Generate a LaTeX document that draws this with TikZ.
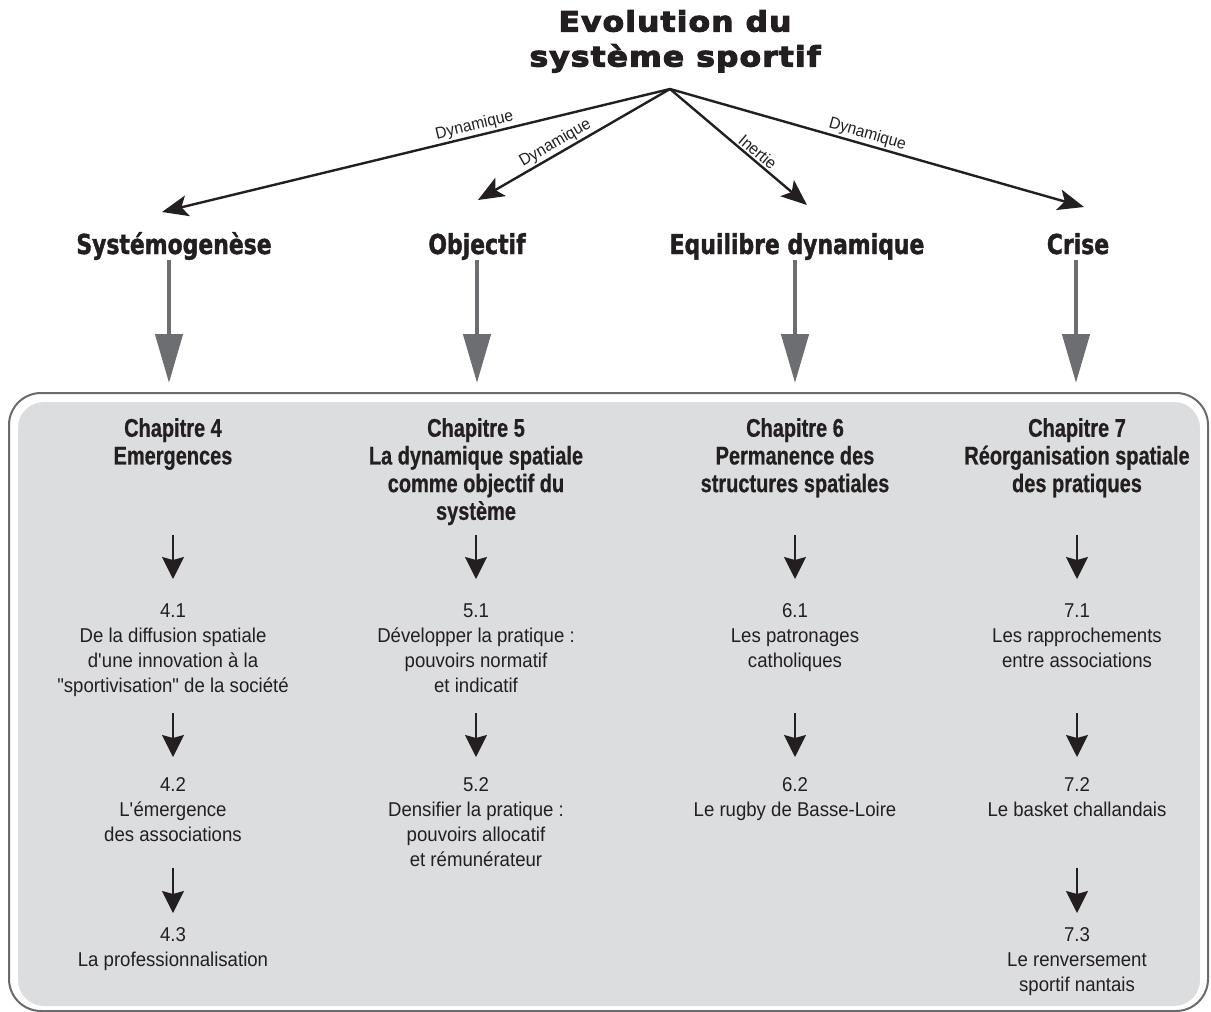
\documentclass[tikz,border=0pt]{standalone}
\usepackage{fontspec}
\usetikzlibrary{arrows.meta}
\newfontfamily\bodyfont{Liberation Sans}[FakeStretch=0.93]
\newfontfamily\chapfont{Liberation Sans}[FakeStretch=0.78,FakeBold=0.6]
\newfontfamily\catfont{DejaVu Sans}[FakeStretch=0.80,FakeBold=1.5]
\newfontfamily\titlefont{DejaVu Sans}[FakeStretch=1.12,LetterSpace=4,FakeBold=4]
\newfontfamily\labfont{Liberation Sans}[FakeStretch=0.95]
\definecolor{ink}{HTML}{231F20}
\definecolor{boxfill}{HTML}{DCDDDF}
\definecolor{boxline}{HTML}{6A6A6C}
\definecolor{grayarr}{HTML}{6D6E71}
\begin{document}
\begin{tikzpicture}[x=1pt,y=-1pt,
  titlestyle/.style={inner sep=0pt,align=center,text=ink,font=\titlefont\bfseries\fontsize{28}{35}\selectfont},
  catstyle/.style={inner sep=0pt,text=ink,font=\catfont\bfseries\fontsize{27.4}{30}\selectfont},
  chapstyle/.style={inner sep=0pt,align=center,text=ink,font=\chapfont\bfseries\fontsize{25.6}{27.7}\selectfont},
  itemstyle/.style={inner sep=0pt,align=center,text=ink,font=\bodyfont\fontsize{20}{25}\selectfont},
  labstyle/.style={inner sep=1.5pt,text=ink,font=\labfont\fontsize{16.5}{18}\selectfont,sloped,above},
  toparrow/.style={draw=ink,line width=2.4pt,-{Stealth[length=26pt,width=21pt,inset=6pt]}},
  grayarrow/.style={draw=grayarr,line width=4.7pt,-{Triangle[length=49pt,width=27pt]},grayarr},
  smallarrow/.style={draw=ink,line width=1.8pt,-{Stealth[length=22pt,width=22pt,inset=3pt]}}
]
\useasboundingbox (0,0) rectangle (1211,1012);
% frame
\draw[boxline,line width=2pt,rounded corners=32pt] (9,393) rectangle (1208,1011);
\fill[boxfill,rounded corners=26pt] (18,402) rectangle (1200,1006);

% title
\node[titlestyle,anchor=north] (title) at (675,10) {Evolution du\\système sportif};
\coordinate (apex) at (670,89);

% categories
\node[catstyle,anchor=base] (c1) at (174,254) {Systémogenèse};
\node[catstyle,anchor=base] (c2) at (477,254) {Objectif};
\node[catstyle,anchor=base] (c3) at (797,254) {Equilibre dynamique};
\node[catstyle,anchor=base] (c4) at (1078,254) {Crise};

\coordinate (t1) at (162,212);
\coordinate (t2) at (478,200);
\coordinate (t3) at (807,205);
\coordinate (t4) at (1084,207);

\draw[toparrow] (apex) -- node[labstyle,pos=0.38] {Dynamique} (t1);
\draw[toparrow] (apex) -- node[labstyle,pos=0.57] {Dynamique} (t2);
\draw[toparrow] (apex) -- node[labstyle,pos=0.60] {Inertie} (t3);
\draw[toparrow] (apex) -- node[labstyle,pos=0.47] {Dynamique} (t4);

% gray arrows
\foreach \n/\x in {1/169,2/477,3/795,4/1076}{
  \coordinate (gs\n) at (\x,260);
  \coordinate (ge\n) at (\x,383);
  \draw[grayarrow] (gs\n) -- (ge\n);
}

% chapters
\node[chapstyle,anchor=north] (ch4) at (173,418) {Chapitre 4\\Emergences};
\node[chapstyle,anchor=north] (ch5) at (476,418) {Chapitre 5\\La dynamique spatiale\\comme objectif du\\système};
\node[chapstyle,anchor=north] (ch6) at (795,418) {Chapitre 6\\Permanence des\\structures spatiales};
\node[chapstyle,anchor=north] (ch7) at (1077,418) {Chapitre 7\\Réorganisation spatiale\\des pratiques};

% items
\node[itemstyle,anchor=north] (s41) at (173,603.7) {4.1\\De la diffusion spatiale\\d\textquotesingle une innovation à la\\"sportivisation" de la société};
\node[itemstyle,anchor=north] (s42) at (173,777.7) {4.2\\L\textquotesingle émergence\\des associations};
\node[itemstyle,anchor=north] (s43) at (173,927.7) {4.3\\La professionnalisation};
\node[itemstyle,anchor=north] (s51) at (476,603.7) {5.1\\Développer la pratique :\\pouvoirs normatif\\et indicatif};
\node[itemstyle,anchor=north] (s52) at (476,777.7) {5.2\\Densifier la pratique :\\pouvoirs allocatif\\et rémunérateur};
\node[itemstyle,anchor=north] (s61) at (795,603.7) {6.1\\Les patronages\\catholiques};
\node[itemstyle,anchor=north] (s62) at (795,777.7) {6.2\\Le rugby de Basse-Loire};
\node[itemstyle,anchor=north] (s71) at (1077,603.7) {7.1\\Les rapprochements\\entre associations};
\node[itemstyle,anchor=north] (s72) at (1077,777.7) {7.2\\Le basket challandais};
\node[itemstyle,anchor=north] (s73) at (1077,927.7) {7.3\\Le renversement\\sportif nantais};

% small arrows
\foreach \n/\x/\a/\b in {a41/173/535/579,a42/173/713/757,a43/173/868/913,
                         a51/476/535/579,a52/476/713/757,
                         a61/795/535/579,a62/795/713/757,
                         a71/1077/535/579,a72/1077/713/757,a73/1077/868/913}{
  \coordinate (\n s) at (\x,\a);
  \coordinate (\n e) at (\x,\b);
  \draw[smallarrow] (\n s) -- (\n e);
}
\end{tikzpicture}
\end{document}
